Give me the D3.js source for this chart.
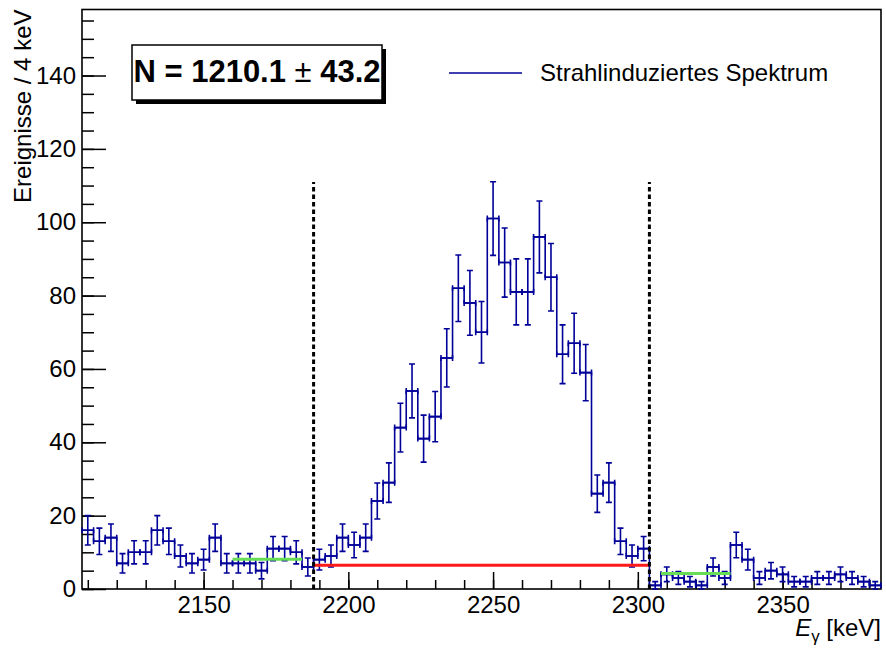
<!DOCTYPE html>
<html><head><meta charset="utf-8">
<script src="https://cdn.jsdelivr.net/npm/d3@7"></script>
<style>
html,body{margin:0;padding:0;background:#fff;}
svg{display:block;font-family:"Liberation Sans",Arial,sans-serif;}
</style></head>
<body><svg id="c" width="886" height="649"></svg>
<script>
// ---- data ----
const binLow = 2108;          // keV, lower edge of first bin
const binWidth = 4;           // keV
const counts = [16,13,14,7,10,10,16,13,9,7,8,14,7,7,7,5,11,11,10,6,
  8,9,14,12,14,24,29,44,54,41,47,63,82,78,70,101,89,81,81,96,
  85,64,67,59,26,29,13,9,11,1,4,3,2,1,6,3,12,8,3,5,
  4,2,2,3,3,4,3,2,1];
const xDomain = [2108, 2384];
const yDomain = [0, 158];
const xMajorTicks = [2150, 2200, 2250, 2300, 2350];
const xMinorTicks = d3.range(2110, 2384, 10);
const yMajorTicks = [0, 20, 40, 60, 80, 100, 120, 140];
const yMinorTicks = d3.range(0, 158, 5);
const cutLines = [2188, 2304];
const cutLineTop = 111;
const signalBg = {x0: 2188, x1: 2304, y: 6.5};
const sideBands = [{x0: 2160, x1: 2184, y: 8.1}, {x0: 2308, x1: 2332, y: 4.2}];
const resultText = "N = 1210.1";
const resultErr = "43.2";
const legendLabel = "Strahlinduziertes Spektrum";
const yTitle = "Ereignisse / 4 keV";

// ---- layout ----
const svg = d3.select("#c");
const L = 82, R = 881, T = 9.5, B = 589;
const x = d3.scaleLinear().domain(xDomain).range([L, R]);
const y = d3.scaleLinear().domain(yDomain).range([B, T]);
const blue = "#000099";

// axes
const gx = svg.append("g").attr("transform", `translate(0,${B})`);
gx.call(d3.axisBottom(x).tickValues(xMinorTicks).tickSize(-9).tickSizeOuter(0).tickFormat(""));
const gx2 = svg.append("g").attr("transform", `translate(0,${B})`);
gx2.call(d3.axisBottom(x).tickValues(xMajorTicks).tickSize(-17).tickSizeOuter(0).tickPadding(7).tickFormat(d3.format("d")));
const gy = svg.append("g").attr("transform", `translate(${L},0)`);
gy.call(d3.axisLeft(y).tickValues(yMinorTicks).tickSize(-12).tickSizeOuter(0).tickFormat(""));
const gy2 = svg.append("g").attr("transform", `translate(${L},0)`);
gy2.call(d3.axisLeft(y).tickValues(yMajorTicks).tickSize(-24).tickSizeOuter(0).tickPadding(6).tickFormat(d3.format("d")));
svg.selectAll(".domain").remove();
svg.selectAll(".tick line").attr("stroke", "#000").attr("stroke-width", 1.5);
svg.selectAll(".tick text").attr("font-size", 24).attr("fill", "#000").attr("font-family", "Liberation Sans, Arial, sans-serif");

// frame
svg.append("rect").attr("x", L).attr("y", T).attr("width", R - L).attr("height", B - T)
  .attr("fill", "none").attr("stroke", "#000").attr("stroke-width", 1.6);

// histogram step outline
const bins = counts.map((c, i) => ({lo: binLow + i * binWidth, hi: binLow + (i + 1) * binWidth, v: c}));
let dStep = "";
bins.forEach((b, i) => {
  dStep += (i === 0 ? "M" : "L") + x(b.lo) + "," + y(b.v) + "L" + x(b.hi) + "," + y(b.v);
});
svg.append("path").attr("d", dStep).attr("fill", "none").attr("stroke", blue).attr("stroke-width", 1.6);

// error bars
const eg = svg.append("g").attr("stroke", blue).attr("stroke-width", 1.6).attr("fill", "none");
const cap = 3;
bins.forEach(b => {
  const xc = x((b.lo + b.hi) / 2), e = Math.sqrt(b.v);
  const y1 = y(b.v + e), y0 = y(Math.max(0, b.v - e)), yv = y(b.v);
  eg.append("path").attr("d",
    `M${xc},${y0}L${xc},${y1}` +
    `M${xc - cap},${y1}L${xc + cap},${y1}` +
    `M${xc - cap},${y0}L${xc + cap},${y0}` +
    `M${x(b.lo)},${yv}L${x(b.hi)},${yv}` +
    `M${x(b.lo)},${yv - cap}L${x(b.lo)},${yv + cap}` +
    `M${x(b.hi)},${yv - cap}L${x(b.hi)},${yv + cap}`);
});

// side bands (green) and signal background (red)
sideBands.forEach(s => {
  svg.append("line").attr("x1", x(s.x0)).attr("x2", x(s.x1)).attr("y1", y(s.y)).attr("y2", y(s.y))
    .attr("stroke", "#66dd55").attr("stroke-width", 3);
});
svg.append("line").attr("x1", x(signalBg.x0)).attr("x2", x(signalBg.x1))
  .attr("y1", y(signalBg.y)).attr("y2", y(signalBg.y)).attr("stroke", "#ff1a1a").attr("stroke-width", 3);

// dashed cut lines
cutLines.forEach(c => {
  svg.append("line").attr("x1", x(c)).attr("x2", x(c)).attr("y1", y(0)).attr("y2", y(cutLineTop))
    .attr("stroke", "#000").attr("stroke-width", 3).attr("stroke-dasharray", "4.5,3");
});

// result box with shadow
const bx = 132, by = 45, bw = 250, bh = 55;
svg.append("rect").attr("x", bx + 4).attr("y", by + 4).attr("width", bw).attr("height", bh).attr("fill", "#000");
svg.append("rect").attr("x", bx).attr("y", by).attr("width", bw).attr("height", bh)
  .attr("fill", "#fff").attr("stroke", "#000").attr("stroke-width", 1.5);
const rt = svg.append("text").attr("x", bx + bw / 2).attr("y", 82).attr("text-anchor", "middle")
  .attr("font-size", 31).attr("font-weight", "bold").attr("fill", "#000");
rt.append("tspan").text(resultText + " ");
rt.append("tspan").attr("font-weight", "normal").text("\u00B1");
rt.append("tspan").text(" " + resultErr);

// legend
svg.append("line").attr("x1", 449).attr("x2", 522).attr("y1", 73).attr("y2", 73)
  .attr("stroke", blue).attr("stroke-width", 1.5);
svg.append("text").attr("x", 540).attr("y", 73).attr("dy", "0.35em").attr("font-size", 24)
  .attr("fill", "#000").text(legendLabel);

// axis titles
svg.append("text").attr("transform", `translate(31,${T}) rotate(-90)`).attr("text-anchor", "end")
  .attr("font-size", 24).attr("fill", "#000").text(yTitle);
const xt = svg.append("text").attr("x", R).attr("y", 636).attr("text-anchor", "end")
  .attr("font-size", 24).attr("fill", "#000");
xt.append("tspan").attr("font-style", "italic").text("E");
xt.append("tspan").attr("font-size", 17).attr("dy", 6).text("\u03B3");
xt.append("tspan").attr("dy", -6).text(" [keV]");
</script></body></html>
